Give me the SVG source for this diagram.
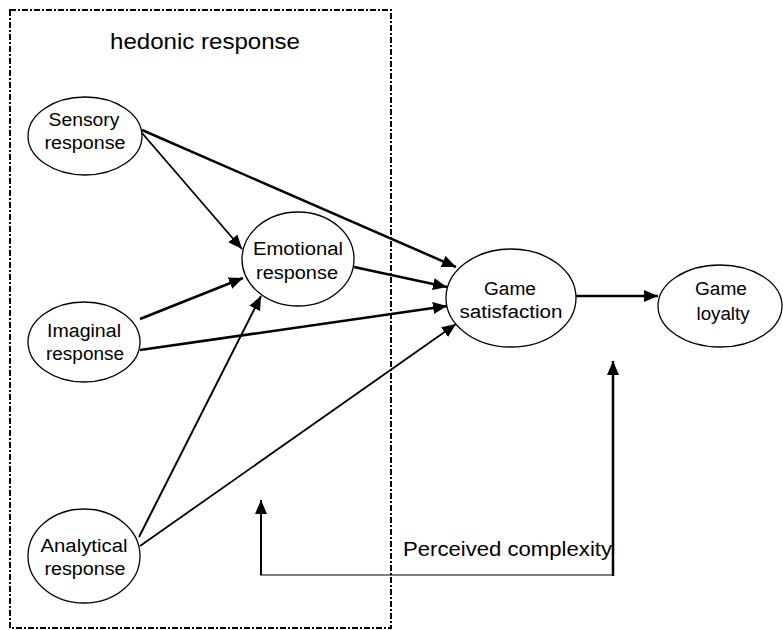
<svg xmlns="http://www.w3.org/2000/svg" width="783" height="630" viewBox="0 0 783 630">
<defs>
<marker id="ah" markerUnits="userSpaceOnUse" markerWidth="15" markerHeight="12" refX="14" refY="6" orient="auto">
<path d="M0,0 L14,6 L0,12 Z" fill="#000"/>
</marker>
</defs>
<style>
.node ellipse{fill:#fff;stroke:#000;stroke-width:1.3}
.node text{font-family:"Liberation Sans",Arial,sans-serif;font-size:18px;text-anchor:middle;fill:#000}
.conn line{stroke:#000;fill:none}
.lbl{font-family:"Liberation Sans",Arial,sans-serif;fill:#000}
</style>
<rect width="783" height="630" fill="#fff"/>
<rect x="10" y="10" width="381" height="618" fill="none" stroke="#000" stroke-width="2" stroke-dasharray="6,2,2,2"/>
<text class="lbl" x="205" y="49" font-size="22" text-anchor="middle" textLength="190" lengthAdjust="spacingAndGlyphs">hedonic response</text>
<g class="conn">
<line x1="142" y1="133" x2="242" y2="249" stroke-width="1.8" marker-end="url(#ah)"/>
<line x1="142" y1="130" x2="456" y2="267" stroke-width="2.5" marker-end="url(#ah)"/>
<line x1="354" y1="267" x2="447" y2="287" stroke-width="2.5" marker-end="url(#ah)"/>
<line x1="140" y1="319" x2="243" y2="278" stroke-width="2.5" marker-end="url(#ah)"/>
<line x1="140" y1="350" x2="447" y2="306" stroke-width="2.5" marker-end="url(#ah)"/>
<line x1="139" y1="537" x2="261" y2="296" stroke-width="2" marker-end="url(#ah)"/>
<line x1="140" y1="546" x2="456" y2="324" stroke-width="1.8" marker-end="url(#ah)"/>
<line x1="576" y1="296" x2="658" y2="296" stroke-width="2.5" marker-end="url(#ah)"/>
<line x1="261" y1="575" x2="261" y2="500" stroke-width="2" marker-end="url(#ah)"/>
<line x1="260" y1="575" x2="614" y2="575" stroke-width="1.2"/>
<line x1="613" y1="576" x2="613" y2="361" stroke-width="2.5" marker-end="url(#ah)"/>
</g>
<text class="lbl" x="403" y="556" font-size="20" textLength="209" lengthAdjust="spacingAndGlyphs">Perceived complexity</text>
<g id="sensory" class="node">
<ellipse cx="85" cy="136" rx="57" ry="39"/>
<text x="84" y="126" textLength="71" lengthAdjust="spacingAndGlyphs">Sensory</text>
<text x="85" y="149" textLength="81" lengthAdjust="spacingAndGlyphs">response</text>
</g>
<g id="imaginal" class="node">
<ellipse cx="84" cy="342" rx="56" ry="40"/>
<text x="84" y="337" textLength="74" lengthAdjust="spacingAndGlyphs">Imaginal</text>
<text x="85" y="360" textLength="78" lengthAdjust="spacingAndGlyphs">response</text>
</g>
<g id="analytical" class="node">
<ellipse cx="84" cy="556" rx="56" ry="47"/>
<text x="84" y="552" textLength="87" lengthAdjust="spacingAndGlyphs">Analytical</text>
<text x="85" y="575" textLength="81" lengthAdjust="spacingAndGlyphs">response</text>
</g>
<g id="emotional" class="node">
<ellipse cx="298" cy="259" rx="56" ry="47"/>
<text x="298" y="255" textLength="90" lengthAdjust="spacingAndGlyphs">Emotional</text>
<text x="297" y="279" textLength="82" lengthAdjust="spacingAndGlyphs">response</text>
</g>
<g id="satisfaction" class="node">
<ellipse cx="511" cy="298" rx="65" ry="49"/>
<text x="510" y="295" textLength="52" lengthAdjust="spacingAndGlyphs">Game</text>
<text x="511" y="318" textLength="103" lengthAdjust="spacingAndGlyphs">satisfaction</text>
</g>
<g id="loyalty" class="node">
<ellipse cx="720" cy="306" rx="62" ry="41"/>
<text x="721" y="295" textLength="52" lengthAdjust="spacingAndGlyphs">Game</text>
<text x="723" y="320" textLength="53" lengthAdjust="spacingAndGlyphs">loyalty</text>
</g>
</svg>
